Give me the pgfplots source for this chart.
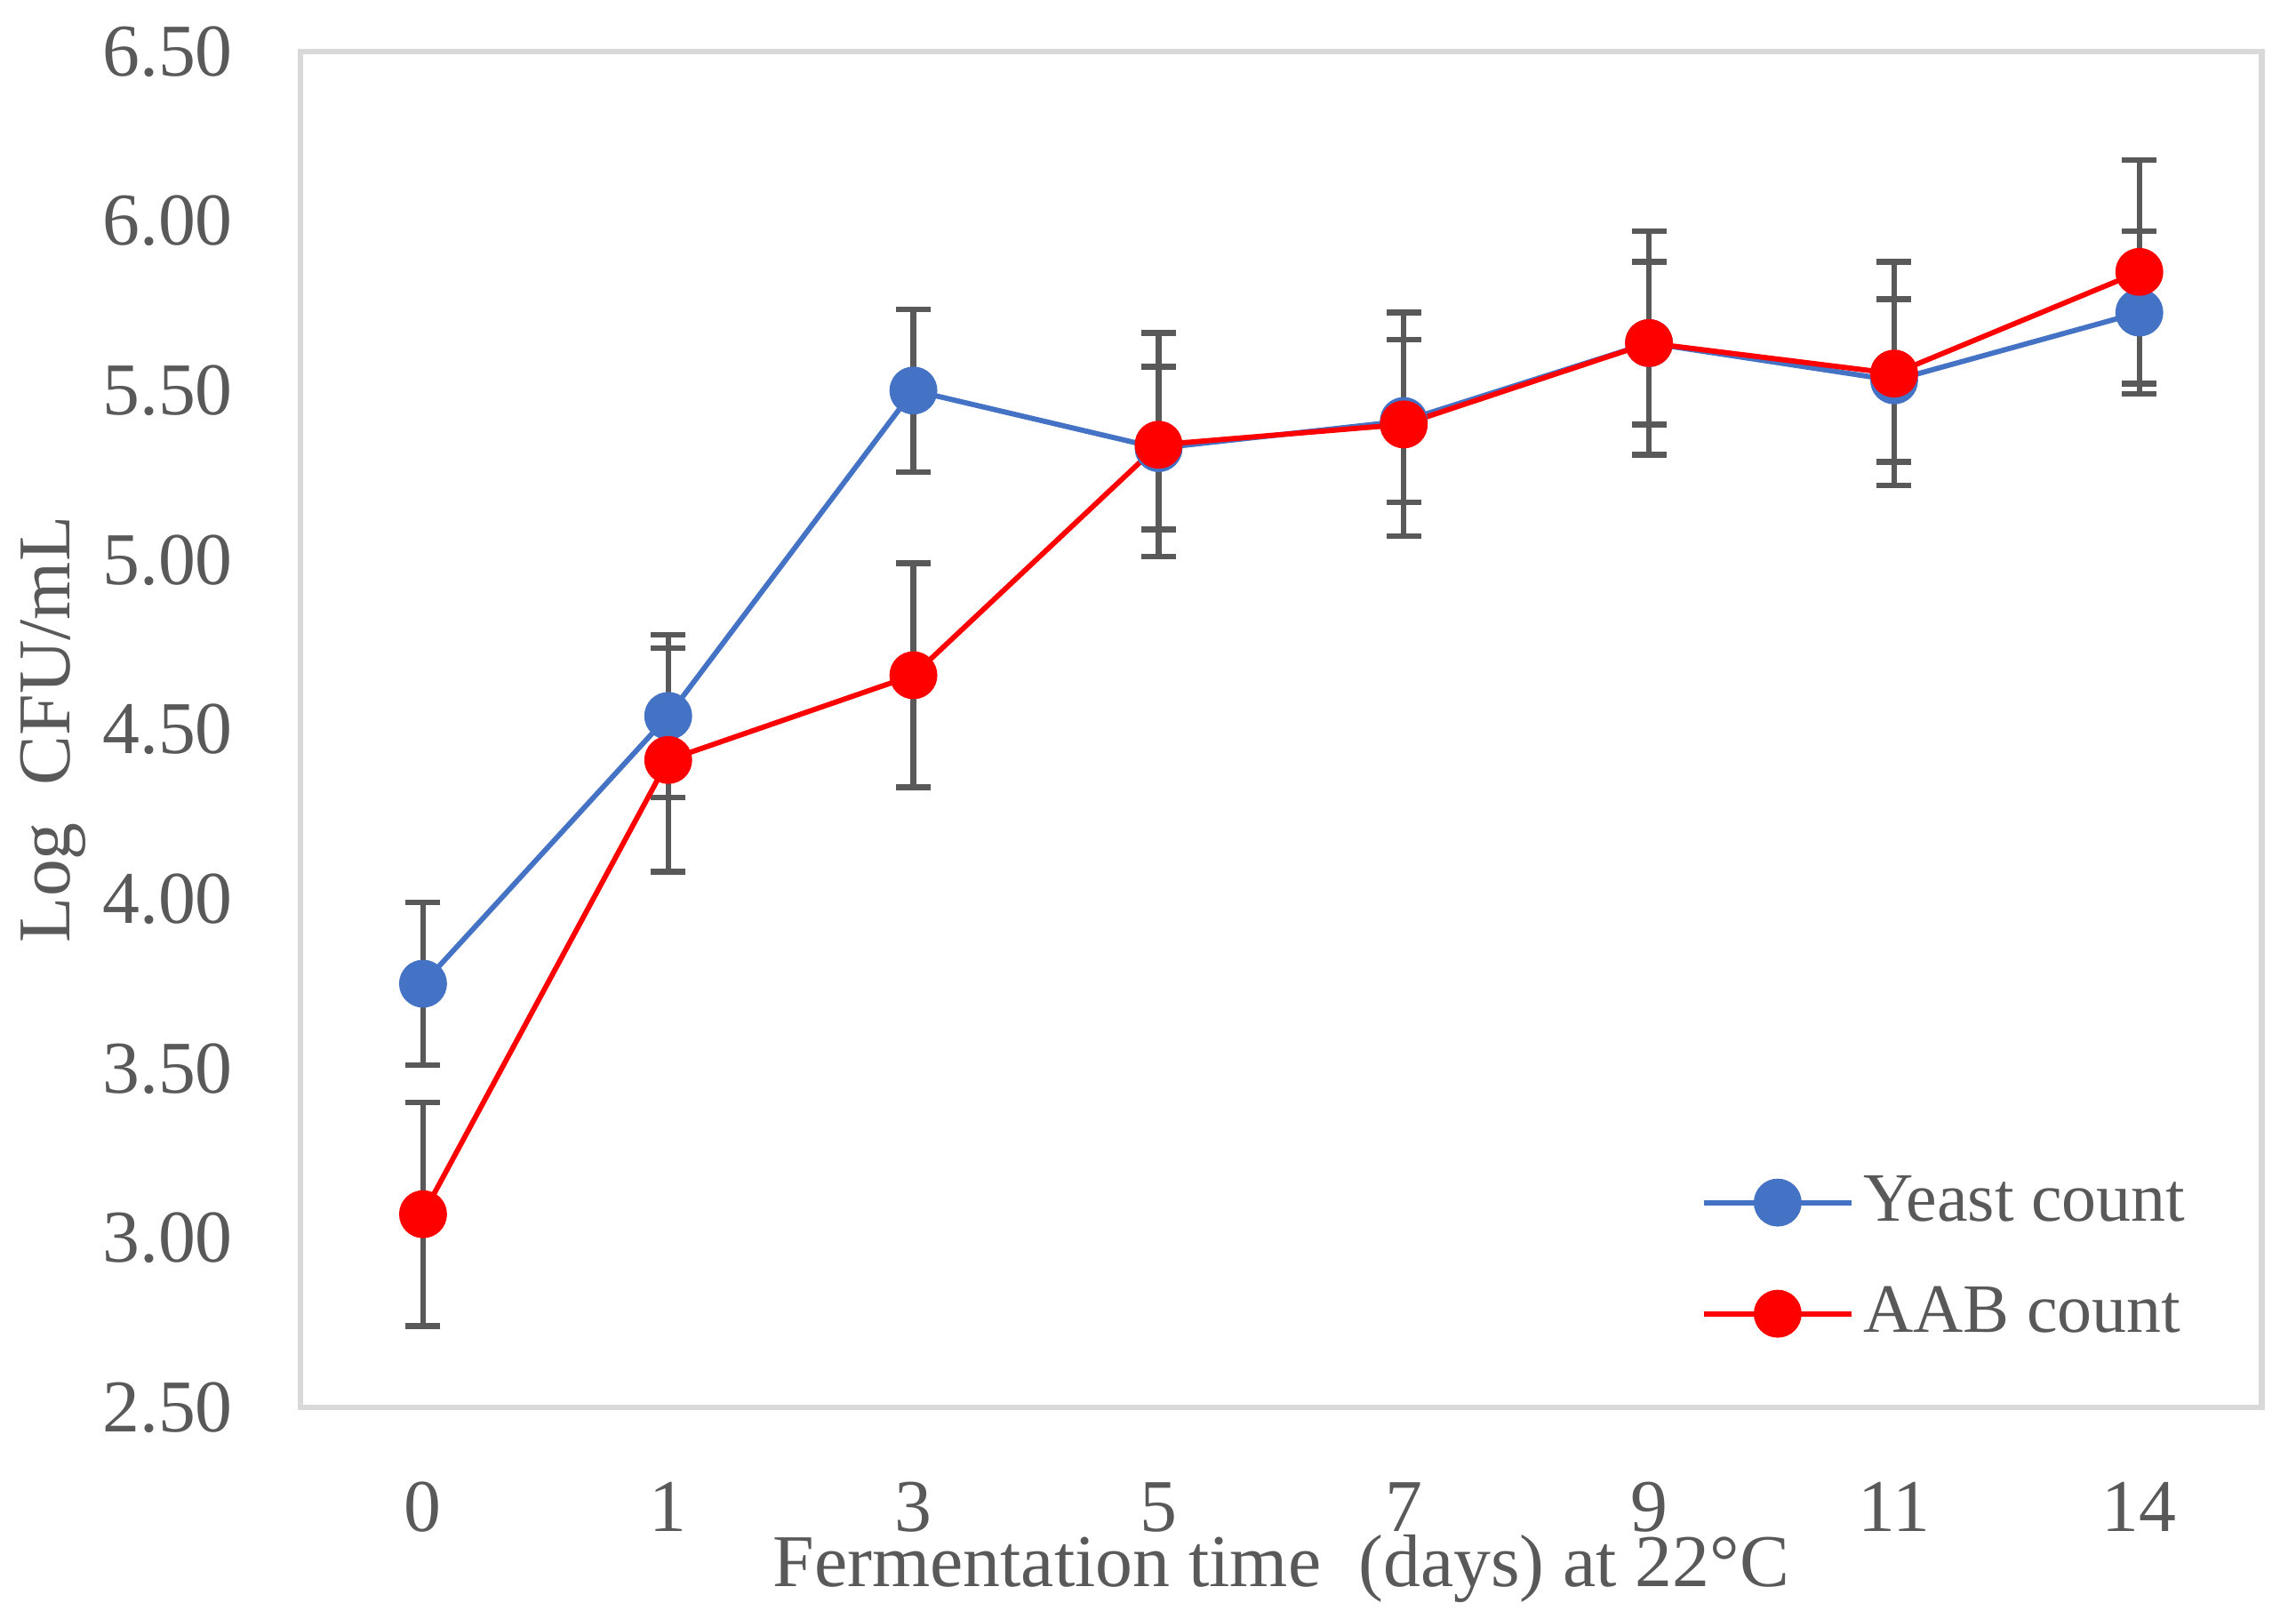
\documentclass[border=0pt]{standalone}
\usepackage{fontspec}
\setmainfont{Liberation Serif}
\usepackage{pgfplots}
\usepackage{pgfplotstable}
\pgfplotsset{compat=1.18}
\definecolor{yeastblue}{HTML}{4472C4}
\definecolor{aabred}{HTML}{FF0000}
\definecolor{textgray}{HTML}{595959}
\definecolor{framegray}{HTML}{D9D9D9}

% day index, mean and error of each count
\pgfplotstableread{
x yeast yerr aab aerr
0 3.75 0.24 3.07 0.33
1 4.54 0.24 4.41 0.33
2 5.50 0.24 4.66 0.33
3 5.33 0.24 5.34 0.33
4 5.41 0.24 5.40 0.33
5 5.64 0.24 5.64 0.33
6 5.53 0.24 5.55 0.33
7 5.73 0.24 5.85 0.33
}\counts

\begin{document}
\begin{tikzpicture}
\begin{axis}[
    scale only axis,
    width=13.24cm,
    height=9.15cm,
    xmin=-0.5, xmax=7.5,
    ymin=2.5, ymax=6.5,
    xtick={0,...,7},
    xticklabels={0,1,3,5,7,9,11,14},
    ytick={2.5,3,...,6.5},
    major tick length=0pt,
    axis line style={framegray, line width=1.1pt},
    font=\fontsize{14.3}{17}\selectfont,
    tick label style={textgray, font=\fontsize{14.3}{17}\selectfont},
    yticklabel style={/pgf/number format/fixed, /pgf/number format/fixed zerofill,
        /pgf/number format/precision=2, /pgf/number format/assume math mode=true},
    every x tick label/.append style={anchor=base, inner sep=0pt, yshift=-0.834cm},
    every y tick label/.append style={anchor=east, inner sep=0pt, xshift=-0.45cm},
    xlabel={Fermentation time\ \ (days) at 22°C},
    ylabel={Log\ \ CFU/mL},
    xlabel style={at={(axis description cs:0.5,-0.1321)}, anchor=base, inner sep=0pt, textgray},
    ylabel style={at={(axis description cs:-0.1178,0.5)}, anchor=base, inner sep=0pt, textgray},
    legend style={at={(axis description cs:0.7135,0.110)}, anchor=west, draw=none, fill=none,
        inner sep=0pt, row sep=0.39cm, column sep=0.06cm, text=textgray,
        font=\fontsize{13.3}{16}\selectfont, nodes={inner sep=0pt}},
    legend cell align=left,
    legend image code/.code={\draw[mark repeat=2, mark phase=2, #1]
        plot coordinates {(0cm,0cm) (0.5cm,0cm) (1.0cm,0cm)};},
    error bars/error bar style={line width=1.1pt, textgray},
    error bars/error mark options={rotate=90, mark size=0.117cm, line width=1.1pt, textgray},
]
\addplot[yeastblue, line width=1pt, mark=*, mark size=0.144cm,
    mark options={fill=yeastblue, draw=yeastblue},
    error bars/.cd, y dir=both, y explicit]
    table[x=x, y=yeast, y error=yerr] {\counts};
\addlegendentry{Yeast count}
\addplot[aabred, line width=1pt, mark=*, mark size=0.144cm,
    mark options={fill=aabred, draw=aabred},
    error bars/.cd, y dir=both, y explicit]
    table[x=x, y=aab, y error=aerr] {\counts};
\addlegendentry{AAB count}
\end{axis}
\pgfresetboundingbox
\useasboundingbox (-2.028,-1.374) rectangle (13.47,9.498);
\end{tikzpicture}
\end{document}
